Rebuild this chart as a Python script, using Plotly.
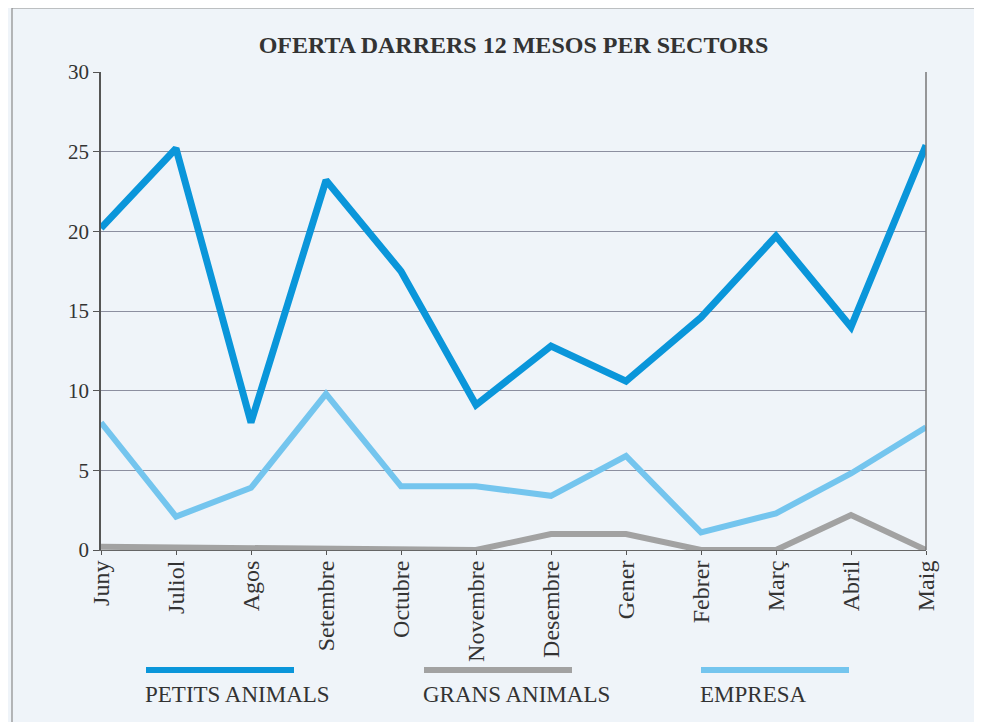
import plotly.graph_objects as go

months = ["Juny", "Juliol", "Agos", "Setembre", "Octubre", "Novembre",
          "Desembre", "Gener", "Febrer", "Març", "Abril", "Maig"]
petits_animals = [20.2, 25.2, 8.0, 23.2, 17.5, 9.1, 12.8, 10.6, 14.6, 19.7, 14.0, 25.4]
grans_animals = [0.2, 0.15, 0.15, 0.1, 0.0, 0.0, 1.0, 1.0, 0.0, 0.0, 2.2, 0.0]
empresa = [8.0, 2.1, 3.9, 9.8, 4.0, 4.0, 3.4, 5.9, 1.1, 2.3, 4.8, 7.7]

series_names = ["PETITS ANIMALS", "GRANS ANIMALS", "EMPRESA"]
series_values = [petits_animals, grans_animals, empresa]
colors = ["#0A96DA", "#A2A2A2", "#74C5EE"]
widths = [7, 6, 6]

BG = "#EFF4F9"
FONT = "Liberation Serif"

# page body has an 8px margin, so the figure is sized/positioned to compensate
W, H = 974, 714
L, T, PW, PH = 93, 64, 825, 478

fig = go.Figure()
for idx in [1, 2, 0]:
    fig.add_trace(go.Scatter(
        x=months, y=series_values[idx], mode="lines", name=series_names[idx],
        line=dict(color=colors[idx], width=widths[idx]), showlegend=False))

fig.update_layout(
    width=W, height=H,
    margin=dict(l=L, r=W - L - PW, t=T, b=H - T - PH, autoexpand=False),
    paper_bgcolor=BG, plot_bgcolor=BG,
    font=dict(family=FONT, size=20, color="#333333"),
    title=dict(text="<b>OFERTA DARRERS 12 MESOS PER SECTORS</b>",
               x=(L + PW / 2) / W, xanchor="center",
               y=1 - 37 / H, yanchor="middle", yref="container",
               font=dict(family=FONT, size=24, color="#333333")),
)
fig.update_xaxes(type="category", range=[0, 11], tickangle=-90,
                 ticks="outside", ticklen=4, tickcolor="#555555",
                 showline=True, linecolor="#666666", linewidth=1,
                 showgrid=False, tickfont=dict(size=24, family=FONT),
                 ticklabelstandoff=-4,
                 automargin=False)
fig.update_yaxes(range=[0, 30], dtick=5, ticks="outside", ticklen=6,
                 tickcolor="#555555", showline=True, linecolor="#555555",
                 linewidth=1.5, showgrid=True, gridcolor="#8C8FA0", gridwidth=1,
                 tickfont=dict(size=21, family=FONT), zeroline=False,
                 automargin=False)

# right border of plot area
fig.add_shape(type="line", xref="paper", yref="paper", x0=1, x1=1, y0=0, y1=1,
              line=dict(color="#777777", width=1.5))
# outer frame
fig.add_shape(type="rect", xref="paper", yref="paper",
              x0=(12 - 101) / PW, x1=(978 - 101) / PW,
              y0=(550 - 740) / PH, y1=(550 - 8) / PH,
              line=dict(color="#8A8A8A", width=1.2), layer="below")

# custom legend (long line samples)
legend_x = [146, 424, 701]
for i, name in enumerate(series_names):
    x0 = (legend_x[i] - 101) / PW
    x1 = (legend_x[i] + 148 - 101) / PW
    yl = (550 - 670) / PH
    fig.add_shape(type="line", xref="paper", yref="paper", x0=x0, x1=x1,
                  y0=yl, y1=yl, line=dict(color=colors[i], width=6))
    fig.add_annotation(xref="paper", yref="paper", x=x0, y=(550 - 695) / PH,
                       text=name, showarrow=False, xanchor="left", yanchor="middle",
                       xshift=-3,
                       font=dict(family=FONT, size=23, color="#333333"))

fig.write_html("out.html")
